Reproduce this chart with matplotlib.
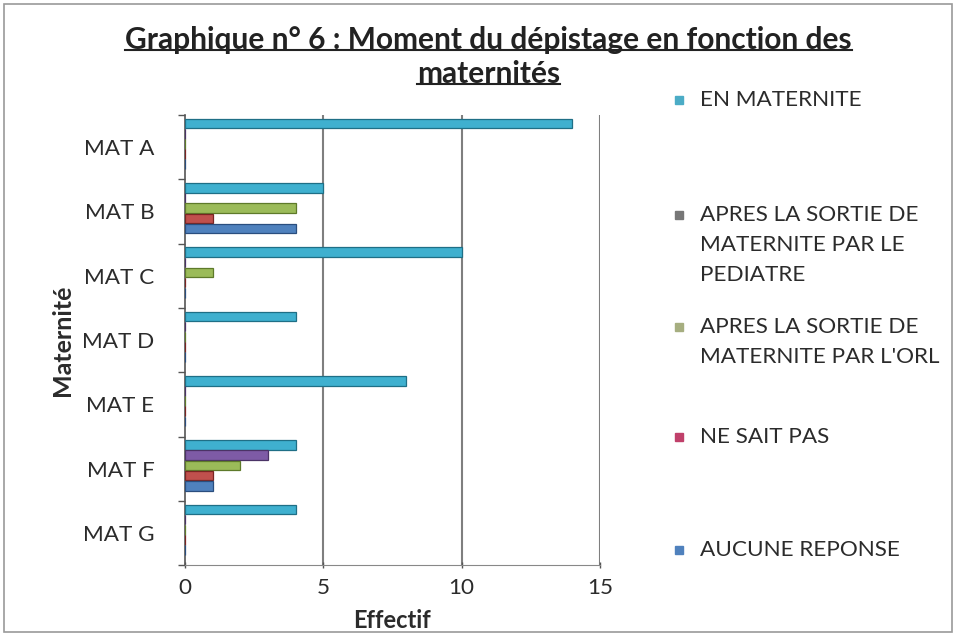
import matplotlib
matplotlib.use("Agg")
import matplotlib.pyplot as plt
from matplotlib.patches import Rectangle
import numpy as np

categories = ["MAT A", "MAT B", "MAT C", "MAT D", "MAT E", "MAT F", "MAT G"]
series_names = [
    "EN MATERNITE",
    "APRES LA SORTIE DE\nMATERNITE PAR LE\nPEDIATRE",
    "APRES LA SORTIE DE\nMATERNITE PAR L'ORL",
    "NE SAIT PAS",
    "AUCUNE REPONSE",
]
en_maternite = [14, 5, 10, 4, 8, 4, 4]
pediatre = [0, 0, 0, 0, 0, 3, 0]
orl = [0, 4, 1, 0, 0, 2, 0]
ne_sait_pas = [0, 1, 0, 0, 0, 1, 0]
aucune_reponse = [0, 4, 0, 0, 0, 1, 0]
x_ticks = [0, 5, 10, 15]

series_values = [en_maternite, pediatre, orl, ne_sait_pas, aucune_reponse]
bar_colors = ["#3FB0CF", "#7E5BA6", "#9BBB59", "#C0504D", "#4F81BD"]
edge_colors = ["#1F6F86", "#4B3366", "#5E7A2A", "#7A2523", "#2A4E7E"]
legend_colors = ["#4BACC6", "#777777", "#A6AE80", "#C0406A", "#4F81BD"]

plt.rcParams['font.family'] = ['Lato', 'DejaVu Sans']
FS = 16.2
TXT = "#2b2b2b"
W, H = 956, 635

fig = plt.figure(figsize=(9.56, 6.35), dpi=100)
fig.patches.append(Rectangle((0.004, 0.004), 0.992, 0.99, transform=fig.transFigure,
                             fill=False, edgecolor="#9a9a9a", linewidth=1.2))

ax = fig.add_axes([0.1935, 0.110, 0.434, 0.709])

y = np.arange(len(categories))
step = 0.158
h = 0.15
center_shift = -0.05
for k, vals in enumerate(series_values):
    off = center_shift + (k - 2) * step
    ax.barh(y + off, vals, height=h, color=bar_colors[k], edgecolor=edge_colors[k],
            linewidth=0.9, zorder=3)

ax.set_xlim(0, 15)
ax.set_ylim(len(categories) - 0.5, -0.5)
ax.set_xticks(x_ticks)
ax.set_xticklabels([str(t) for t in x_ticks])
ax.tick_params(axis='x', length=4, direction='inout', width=1, color="#555555",
               pad=7, labelsize=FS, labelcolor=TXT)
ax.set_yticks(y)
ax.set_yticklabels(categories)
ax.tick_params(axis='y', which='major', length=0, pad=22, labelsize=FS, labelcolor=TXT)
ax.set_yticks(np.arange(len(categories) + 1) - 0.5, minor=True)
ax.tick_params(axis='y', which='minor', length=5, width=1, color="#555555")

for xv in x_ticks[1:]:
    ax.axvline(xv, color="#7f7f7f", linewidth=1.5, zorder=1)
ax.spines['top'].set_visible(False)
ax.spines['right'].set_visible(False)
ax.spines['left'].set_color("#555555")
ax.spines['left'].set_linewidth(1.2)
ax.spines['bottom'].set_color("#888888")

ax.set_xlabel("Effectif", fontsize=17, fontweight='bold', labelpad=8, color=TXT)
ax.set_ylabel("Maternité", fontsize=18, fontweight='bold', labelpad=6, color=TXT)

# Title with underline
t1 = fig.text(0.511, 1 - 40 / H, "Graphique n° 6 : Moment du dépistage en fonction des",
              ha='center', va='center', fontsize=21.5, fontweight='bold', color="#222222")
t2 = fig.text(0.511, 1 - 74 / H, "maternités", ha='center', va='center', fontsize=21.5,
              fontweight='bold', color="#222222")
fig.canvas.draw()
r = fig.canvas.get_renderer()
inv = fig.transFigure.inverted()
for t in (t1, t2):
    bb = t.get_window_extent(r)
    (x0, y0), (x1, y1) = inv.transform([(bb.x0, bb.y0), (bb.x1, bb.y1)])
    fig.add_artist(plt.Line2D([x0, x1], [y0 + 0.007, y0 + 0.007], transform=fig.transFigure,
                              color="#222222", linewidth=1.5))

# Legend (manual): pixel rows of each text line
legend_rows = [[100], [215, 245, 275], [327, 357], [437], [550]]
for k, name in enumerate(series_names):
    rows = legend_rows[k]
    yy = 1 - rows[0] / H
    fig.patches.append(Rectangle((0.706, yy - 0.007), 0.0085, 0.0128, transform=fig.transFigure,
                                 color=legend_colors[k]))
    for line, py in zip(name.split("\n"), rows):
        fig.text(0.732, 1 - py / H, line, ha='left', va='center', fontsize=FS, color=TXT)

fig.savefig("out.png", dpi=100)
